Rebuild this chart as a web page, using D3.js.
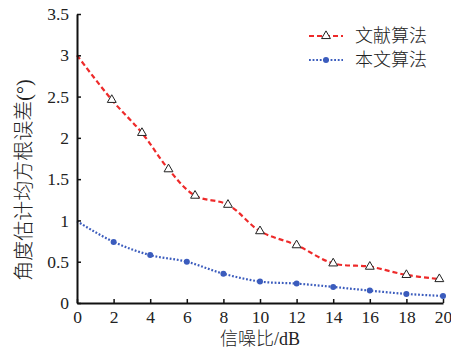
<!DOCTYPE html>
<html>
<head>
<meta charset="utf-8">
<script src="https://cdn.jsdelivr.net/npm/d3@7"></script>
<style>
  body { margin: 0; background: #fff; }
  svg text { font-family: "Liberation Serif", "Noto Sans CJK SC", serif; fill: #222; }
</style>
</head>
<body>
<div id="chart"></div>
<script>
// data
const refX = [0, 1.9, 3.55, 5, 6.45, 8.25, 10, 12, 14, 16, 18, 19.8];
const refY = [3.0, 2.46, 2.06, 1.62, 1.3, 1.19, 0.87, 0.7, 0.48, 0.44, 0.34, 0.29];
const oursX = [0, 2, 4, 6, 8, 10, 12, 14, 16, 18, 20];
const oursY = [0.99, 0.74, 0.58, 0.5, 0.355, 0.26, 0.235, 0.195, 0.15, 0.11, 0.085];
const xTicks = [0, 2, 4, 6, 8, 10, 12, 14, 16, 18, 20];
const yTicks = [0, 0.5, 1, 1.5, 2, 2.5, 3, 3.5];
const seriesNames = ["文献算法", "本文算法"];

const width = 451, height = 351;
const margin = { top: 14, right: 8, bottom: 48, left: 77 };

const svg = d3.select("#chart").append("svg")
  .attr("width", width)
  .attr("height", height);

const x = d3.scaleLinear().domain([0, 20]).range([margin.left, width - margin.right]);
const y = d3.scaleLinear().domain([0, 3.5]).range([height - margin.bottom, margin.top]);

const refData = refX.map((d, i) => [d, refY[i]]);
const oursData = oursX.map((d, i) => [d, oursY[i]]);

const line = d3.line()
  .x(d => x(d[0]))
  .y(d => y(d[1]))
  .curve(d3.curveCatmullRom.alpha(0.5));

// red dashed
svg.append("path")
  .datum(refData)
  .attr("d", line)
  .attr("fill", "none")
  .attr("stroke", "#ee2a2a")
  .attr("stroke-width", 2.2)
  .attr("stroke-dasharray", "5,3");

// blue dotted
svg.append("path")
  .datum(oursData)
  .attr("d", line)
  .attr("fill", "none")
  .attr("stroke", "#3b5cbd")
  .attr("stroke-width", 2.2)
  .attr("stroke-dasharray", "1.8,1.8");

const tri = d3.symbol().type(d3.symbolTriangle).size(34);

svg.append("g")
  .selectAll("path")
  .data(refData.slice(1))
  .join("path")
  .attr("d", tri)
  .attr("transform", d => `translate(${x(d[0])},${y(d[1])})`)
  .attr("fill", "#fff")
  .attr("stroke", "#222")
  .attr("stroke-width", 1);

svg.append("g")
  .selectAll("circle")
  .data(oursData.slice(1))
  .join("circle")
  .attr("cx", d => x(d[0]))
  .attr("cy", d => y(d[1]))
  .attr("r", 3)
  .attr("fill", "#3b5cbd");

// axes, ticks point inward
const xAxis = svg.append("g")
  .attr("transform", `translate(0,${height - margin.bottom})`)
  .call(d3.axisBottom(x).tickValues(xTicks).tickSizeInner(-4).tickSizeOuter(0).tickPadding(8));

const yAxis = svg.append("g")
  .attr("transform", `translate(${margin.left},0)`)
  .call(d3.axisLeft(y).tickValues(yTicks).tickFormat(d3.format("")).tickSizeInner(-4).tickSizeOuter(0).tickPadding(8));

[xAxis, yAxis].forEach(g => {
  g.select(".domain").attr("stroke", "#111").attr("stroke-width", 2);
  g.selectAll(".tick line").attr("stroke", "#111").attr("stroke-width", 1.5);
  g.selectAll(".tick text").attr("font-size", 17.5).attr("fill", "#222")
    .style("font-family", "'Liberation Serif', serif");
});

// axis titles
svg.append("text")
  .attr("x", (margin.left + width - margin.right) / 2)
  .attr("y", 345)
  .attr("text-anchor", "middle")
  .attr("font-size", 18)
  .attr("font-weight", 300)
  .text("信噪比/dB");

svg.append("text")
  .attr("transform", `translate(31,180) rotate(-90)`)
  .attr("text-anchor", "middle")
  .attr("font-size", 20)
  .attr("font-weight", 300)
  .text("角度估计均方根误差(°)");

// legend
const legend = svg.append("g");
const legY = [36, 60];

legend.append("line")
  .attr("x1", 309).attr("x2", 343).attr("y1", legY[0]).attr("y2", legY[0])
  .attr("stroke", "#ee2a2a").attr("stroke-width", 2.2).attr("stroke-dasharray", "5,3");
legend.append("path")
  .attr("d", tri)
  .attr("transform", `translate(326,${legY[0]})`)
  .attr("fill", "#fff").attr("stroke", "#222").attr("stroke-width", 1);

legend.append("line")
  .attr("x1", 309).attr("x2", 343).attr("y1", legY[1]).attr("y2", legY[1])
  .attr("stroke", "#3b5cbd").attr("stroke-width", 2.2).attr("stroke-dasharray", "1.8,1.8");
legend.append("circle")
  .attr("cx", 326).attr("cy", legY[1]).attr("r", 3).attr("fill", "#3b5cbd");

legend.selectAll("text")
  .data(seriesNames)
  .join("text")
  .attr("x", 355)
  .attr("y", (d, i) => legY[i])
  .attr("dy", "0.35em")
  .attr("font-size", 18)
  .attr("font-weight", 300)
  .text(d => d);
</script>
</body>
</html>
